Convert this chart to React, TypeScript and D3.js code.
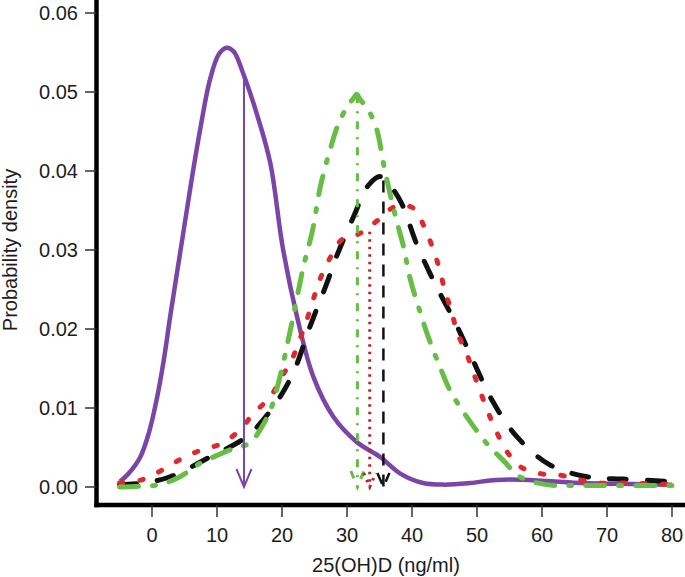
import React from 'react';
import * as d3 from 'd3';

// ---------- data ----------
const xTicks = [0, 10, 20, 30, 40, 50, 60, 70, 80];
const yTicks = [0, 0.01, 0.02, 0.03, 0.04, 0.05, 0.06];
const yTickLabels = ['0.00', '0.01', '0.02', '0.03', '0.04', '0.05', '0.06'];
const xTitle = '25(OH)D (ng/ml)';
const yTitle = 'Probability density';

const purpleX = [-4.9, -3.5, -1.8, -0.5, 0.7, 1.8, 2.8, 4.4, 6.1, 7.4, 8.9, 10.3, 11.5, 12.6, 14, 16.1, 18.2, 20.1, 22.3, 24.8, 27.9, 31.5, 35.1, 38.2, 41.7, 45, 48.9, 53, 58, 62, 66, 72, 80];
const purpleY = [0.0007, 0.0018, 0.0038, 0.0068, 0.011, 0.016, 0.0216, 0.030, 0.0389, 0.0452, 0.0515, 0.0548, 0.0556, 0.0551, 0.0524, 0.0473, 0.041, 0.0304, 0.0216, 0.014, 0.0089, 0.0057, 0.0038, 0.0017, 0.0005, 0.0003, 0.0005, 0.0009, 0.0009, 0.0007, 0.0005, 0.0004, 0.0003];

const greenX = [-5, -2, 1.2, 4.3, 7.4, 10, 12, 15.1, 16.6, 18.2, 19.7, 21.5, 23.3, 24.7, 25.9, 27.4, 28.6, 30, 31.0, 31.5, 32.0, 33.3, 34.6, 35.6, 36.6, 37.6, 38.7, 39.7, 41, 42.5, 44.3, 45.8, 48.4, 51.5, 54, 56.6, 60.7, 65, 70, 80];
const greenY = [0, 0.0001, 0.0003, 0.0013, 0.003, 0.004, 0.0047, 0.0056, 0.0072, 0.0097, 0.014, 0.0207, 0.0279, 0.0325, 0.038, 0.0427, 0.0458, 0.0481, 0.0492, 0.0497, 0.0491, 0.0477, 0.0452, 0.041, 0.0372, 0.0338, 0.0304, 0.0264, 0.0228, 0.019, 0.0152, 0.0123, 0.0089, 0.0055, 0.0034, 0.0013, 0.0003, 0.0002, 0.0002, 0.0002];

const blackX = [-5, -1.4, 2.8, 8.9, 14.6, 18.7, 21.7, 24.3, 26.9, 28.4, 31, 33.3, 35.1, 36.6, 38.4, 40.7, 43.5, 46.6, 49.4, 52.3, 56.1, 61.2, 66.9, 72.5, 80];
const blackY = [0.0003, 0.0005, 0.0013, 0.0038, 0.0064, 0.0102, 0.0144, 0.0203, 0.0258, 0.0292, 0.0342, 0.0382, 0.0393, 0.0382, 0.0359, 0.0308, 0.0258, 0.0209, 0.016, 0.011, 0.0064, 0.0028, 0.0013, 0.001, 0.0007];

const redX = [-5, -1.6, 1.7, 4.6, 7.6, 10.7, 13.5, 15.6, 18.2, 20, 21.5, 22.8, 23.8, 24.8, 25.8, 27.4, 29.2, 32, 34.8, 37.4, 40.2, 42, 43.3, 44.3, 45.1, 46.1, 46.9, 48.4, 49.4, 50.5, 51.7, 53, 54.6, 56.6, 59.7, 62.8, 65.8, 68.9, 73.5, 80];
const redY = [0.0005, 0.0009, 0.0022, 0.0036, 0.0047, 0.0055, 0.0072, 0.0093, 0.0114, 0.014, 0.0161, 0.0188, 0.0211, 0.0237, 0.0262, 0.029, 0.0313, 0.0321, 0.0338, 0.0355, 0.0353, 0.0327, 0.03, 0.0274, 0.0247, 0.0222, 0.0197, 0.0169, 0.0146, 0.0121, 0.0095, 0.007, 0.0045, 0.0026, 0.0017, 0.0015, 0.0009, 0.0005, 0.0005, 0.0003];

// mean markers (vertical arrows): purple, green, red, black
const meanX = [14.15, 31.6, 33.5, 35.6];
const meanTop = [0.0519, 0.0496, 0.0323, 0.0388];

// ---------- styles ----------
const W = 685;
const H = 577;
const FONT = '"Liberation Sans", Arial, Helvetica, sans-serif';
const TEXT = '#1c1c1c';

const curveStyles = {
  purple: { color: '#7a45a6', width: 4.5, dash: null as string | null },
  black: { color: '#111111', width: 5, dash: '17 21' },
  red: { color: '#dc2a2e', width: 5, dash: '3.5 17' },
  green: { color: '#67bd45', width: 5, dash: '19 14 3 14' },
};
const meanStyles = [
  { color: '#7a45a6', width: 2, dash: null as string | null, hw: 7.5, len: 18 },
  { color: '#67bd45', width: 3, dash: '8 8 2 8', hw: 6.5, len: 16 },
  { color: '#b0262c', width: 3, dash: '2.5 5', hw: 6, len: 14 },
  { color: '#111111', width: 2.5, dash: '12 9', hw: 6, len: 14 },
];

export default function App() {
  const xs = d3.scaleLinear().domain([0, 80]).range([152, 672]);
  const ys = d3.scaleLinear().domain([0, 0.06]).range([487, 13]);
  const line = d3
    .line<[number, number]>()
    .x((d) => xs(d[0]))
    .y((d) => ys(d[1]))
    .curve(d3.curveCatmullRom.alpha(0.5));

  const zip = (a: number[], b: number[]) => a.map((v, i) => [v, b[i]] as [number, number]);
  const series = [
    { key: 'purple', pts: zip(purpleX, purpleY) },
    { key: 'black', pts: zip(blackX, blackY) },
    { key: 'red', pts: zip(redX, redY) },
    { key: 'green', pts: zip(greenX, greenY) },
  ];

  const axisX = 96.5;
  const axisY = 505;

  return (
    <svg
      width={W}
      height={H}
      viewBox={`0 0 ${W} ${H}`}
      style={{ position: 'absolute', left: 0, top: 0, background: '#fff' }}
      fontFamily={FONT}
    >
      <rect x={0} y={0} width={W} height={H} fill="#fff" />

      {/* curves */}
      {series.map((s) => {
        const st = (curveStyles as any)[s.key];
        return (
          <path
            key={s.key}
            d={line(s.pts) || ''}
            fill="none"
            stroke={st.color}
            strokeWidth={st.width}
            strokeDasharray={st.dash || undefined}
            strokeLinecap={st.dash ? 'round' : 'butt'}
            strokeLinejoin="round"
          />
        );
      })}

      {/* mean arrows */}
      {meanX.map((mx, i) => {
        const st = meanStyles[i];
        const x = xs(mx);
        const y0 = ys(meanTop[i]);
        const y1 = ys(0);
        return (
          <g key={'m' + i} fill="none" stroke={st.color} strokeWidth={st.width} strokeDasharray={st.dash || undefined}>
            <line x1={x} y1={y0} x2={x} y2={y1} />
            <path d={`M${x - st.hw},${y1 - st.len} L${x},${y1} L${x + st.hw},${y1 - st.len}`} />
          </g>
        );
      })}

      {/* axes */}
      <line x1={axisX} y1={0} x2={axisX} y2={axisY + 2.2} stroke="#000" strokeWidth={4.5} />
      <line x1={axisX - 2.2} y1={axisY} x2={W} y2={axisY} stroke="#000" strokeWidth={4.5} />

      {yTicks.map((t, i) => (
        <g key={'yt' + i}>
          <line x1={85} x2={axisX} y1={ys(t)} y2={ys(t)} stroke="#333" strokeWidth={1.5} />
          <text x={78} y={ys(t) + 7} textAnchor="end" fontSize={20} fill={TEXT}>
            {yTickLabels[i]}
          </text>
        </g>
      ))}

      {xTicks.map((t) => (
        <g key={'xt' + t}>
          <line x1={xs(t)} x2={xs(t)} y1={axisY} y2={517} stroke="#333" strokeWidth={1.5} />
          <text x={xs(t)} y={542} textAnchor="middle" fontSize={20} fill={TEXT}>
            {t}
          </text>
        </g>
      ))}

      <text x={386} y={572} textAnchor="middle" fontSize={20} fill={TEXT}>
        {xTitle}
      </text>
      <text
        transform={`translate(17,250) rotate(-90)`}
        textAnchor="middle"
        fontSize={20}
        fill={TEXT}
      >
        {yTitle}
      </text>
    </svg>
  );
}
